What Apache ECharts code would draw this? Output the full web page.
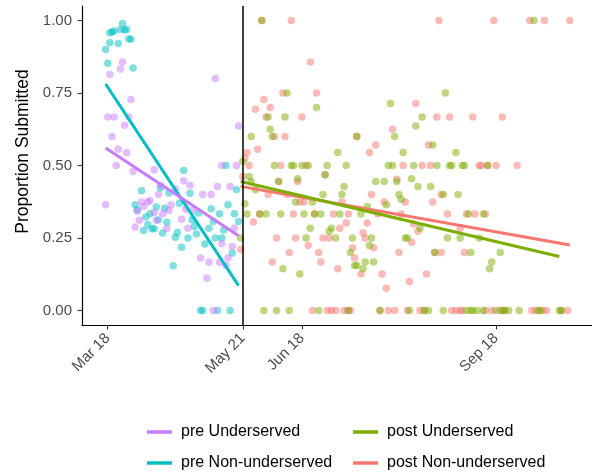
<!DOCTYPE html>
<html><head><meta charset="utf-8">
<script src="https://cdn.jsdelivr.net/npm/echarts@6/dist/echarts.min.js"></script>
<style>html,body{margin:0;padding:0;background:#fff}#c{width:592px;height:474px}</style>
</head><body><div id="c"></div>
<script>
// x = days since Mar 18
const tickDays = [0, 64, 92, 184];
const tickLabels = ['Mar 18', 'May 21', 'Jun 18', 'Sep 18'];
const yTicks = [0, 0.25, 0.5, 0.75, 1];
const cutoffDay = 64;

const preUnderserved = [[7,.857],[6,.833],[1,.814],[51,.8],[11,.728],[0,.667],[3,.667],[10,.667],[8,.639],[62,.636],[2,.6],[5,.556],[9,.545],[4,.5],[54,.5],[61,.5],[12,.479],[22,.485],[-1,.365],[36,.447],[39,.432],[25,.431],[32,.419],[52,.428],[58,.428],[24,.4],[45,.4],[49,.4],[16,.374],[19,.374],[20,.379],[30,.364],[17,.359],[14,.342],[22,.338],[29,.345],[26,.334],[37,.35],[40,.345],[35,.315],[15,.311],[23,.311],[13,.288],[28,.283],[38,.284],[60,.284],[54,.23],[59,.221],[44,.181],[48,.166],[53,.166],[57,.181],[56,.155],[47,.111],[50,0]];

const preNonUnderserved = [[7,.99],[2,.96],[3,.964],[6,.969],[8,.967],[9,.969],[1,.958],[1,.923],[5,.921],[10,.937],[11,.935],[-1,.9],[0,.853],[12,.836],[36,.483],[56,.5],[16,.413],[25,.422],[29,.405],[39,.404],[61,.416],[13,.365],[14,.347],[23,.357],[27,.353],[34,.37],[49,.351],[57,.365],[20,.334],[18,.322],[53,.334],[60,.334],[43,.336],[62,.307],[50,.307],[40,.313],[19,.296],[24,.313],[28,.304],[41,.29],[17,.276],[21,.282],[22,.282],[48,.284],[55,.278],[26,.267],[33,.269],[42,.264],[32,.253],[38,.25],[51,.25],[54,.25],[46,.229],[35,.218],[59,.198],[31,.154],[44,0],[45,0],[52,0],[58,0]];

const postUnderserved = [[73,1],[202,1],[85,.75],[160,.75],[99,.7],[134,.714],[76,.667],[84,.667],[149,.667],[77,.625],[146,.636],[68,.6],[78,.6],[118,.6],[136,.6],[154,.571],[109,.545],[140,.545],[165,.545],[64,.514],
[79,.5],[87,.5],[88,.5],[92,.5],[95,.5],[104,.5],[113,.5],[133,.5],[135,.5],[145,.5],[156,.5],[162,.5],[163,.5],[168,.5],[169,.5],[180,.5],
[67,.462],[68,.445],[90,.454],[81,.445],[103,.468],[112,.428],[111,.4],[102,.4],[70,.416],[89,.374],[97,.374],[65,.368],
[66,.333],[72,.333],[75,.333],[82,.333],[93,.333],[98,.333],[101,.333],[110,.333],[120,.333],[171,.333],[178,.333],
[96,.284],[106,.284],[105,.273],[148,.284],
[63,.25],[94,.25],[108,.25],[116,.25],[125,.25],[141,.25],[142,.25],[161,.25],[167,.25],[176,.25],
[115,.2],[117,.155],[83,.144],[91,.126],
[127,.445],[131,.445],[137,.445],[144,.454],[147,.428],[153,.428],
[138,.4],[159,.4],[166,.4],[139,.384],[132,.365],[123,.359],
[124,.224],[155,.2],[172,.2],[186,.2],[122,.167],[126,.167],[118,.155],[121,.144],[182,.167],[181,.144],
[74,0],[80,0],[86,0],[100,0],[114,0],[129,0],[143,0],[150,0],[152,0],[159,0],[170,0],[172,0],[173,0],[175,0],[178,0],[184,0],[187,0],[188,0],[190,0],[195,0],[204,0],[205,0],[214,0],[215,0]];

const postNonUnderserved = [[73,1],[87,1],[157,1],[183,1],[200,1],[207,1],[219,1],
[96,.857],[83,.75],[99,.75],[74,.728],[70,.694],[77,.7],[146,.714],
[75,.667],[92,.667],[156,.667],[162,.667],[173,.667],[187,.667],
[135,.625],[79,.6],[84,.6],[118,.6],[127,.571],[152,.571],[71,.556],[66,.545],[124,.545],[65,.525],
[67,.5],[82,.5],[94,.5],[140,.5],[149,.5],[153,.5],[176,.5],[177,.5],[180,.5],[184,.5],[194,.5],
[64,.462],[137,.453],[90,.445],[81,.445],[103,.468],
[76,.4],[85,.4],[125,.4],[158,.4],
[91,.374],[93,.374],[111,.374],[141,.374],[154,.374],[131,.374],
[72,.333],[88,.333],[98,.333],[107,.333],[114,.333],[128,.333],[139,.333],[161,.333],[170,.333],[174,.333],[179,.333],
[69,.305],[113,.302],[123,.302],[145,.298],[110,.284],[167,.284],[147,.273],[121,.267],
[80,.25],[89,.25],[102,.25],[105,.25],[122,.25],
[144,.235],[95,.224],[116,.216],[126,.216],[63,.21],
[100,.2],[86,.2],[138,.2],[155,.2],[158,.2],[169,.2],
[117,.181],[78,.167],[101,.167],[109,.144],[120,.126],[130,.126],[151,.126],[143,.1],[132,.077],
[97,0],[104,0],[106,0],[108,0],[112,0],[114,0],[115,0],[129,0],[133,0],[136,0],[142,0],[148,0],[150,0],[163,0],[165,0],[167,0],[168,0],[179,0],[182,0],[186,0],[188,0],[201,0],[203,0],[206,0],[208,0],[215,0],[218,0]];

// fitted trend lines (endpoints)
const preUnderservedFit = [[-1, 0.560], [62, 0.258]];
const preNonUnderservedFit = [[-1, 0.781], [62, 0.086]];
const postUnderservedFit = [[63, 0.445], [214, 0.186]];
const postNonUnderservedFit = [[63, 0.428], [219, 0.226]];

const groups = [
  {name: 'post Non-underserved', color: '#F8766D', pts: postNonUnderserved, fit: postNonUnderservedFit},
  {name: 'post Underserved', color: '#7CAE00', pts: postUnderserved, fit: postUnderservedFit},
  {name: 'pre Non-underserved', color: '#00BFC4', pts: preNonUnderserved, fit: preNonUnderservedFit},
  {name: 'pre Underserved', color: '#C77CFF', pts: preUnderserved, fit: preUnderservedFit}
];

const FONT = 'Liberation Sans, Arial, sans-serif';
const series = [];
groups.forEach(g => {
  series.push({
    type: 'scatter', name: g.name + ' pts', data: g.pts, symbolSize: 7.5,
    itemStyle: {color: g.color, opacity: 0.5}, silent: true, z: 2
  });
});
groups.forEach(g => {
  series.push({
    type: 'line', name: g.name, data: g.fit, color: g.color, showSymbol: false, symbol: 'none',
    lineStyle: {color: g.color, width: 3}, itemStyle: {color: g.color}, silent: true, z: 3
  });
});
series.push({
  type: 'line', name: 'cutoff', data: [], silent: true, z: 4,
  markLine: {symbol: 'none', silent: true, label: {show: false},
    lineStyle: {color: '#000', width: 1.5, type: 'solid'},
    data: [{xAxis: cutoffDay}]}
});

function leg(name, left, top) {
  return {
    left: left, top: top, orient: 'horizontal', selectedMode: false,
    icon: 'rect', itemWidth: 25, itemHeight: 3.5,
    textStyle: {fontSize: 16, color: '#000', fontFamily: FONT, lineHeight: 16, padding: [0, 0, 0, 4]},
    data: [{name: name}]
  };
}

const chart = echarts.init(document.getElementById('c'), null, {renderer: 'canvas'});
chart.setOption({
  animation: false,
  backgroundColor: '#fff',
  grid: {left: 82, right: 0, top: 6, bottom: 149, containLabel: false},
  xAxis: {
    type: 'value', min: -12.2, max: 229.5,
    axisLine: {show: true, onZero: false, lineStyle: {color: '#000', width: 1.2}},
    axisTick: {show: true, length: 4.5, customValues: tickDays, lineStyle: {color: '#333', width: 1.1}},
    axisLabel: {customValues: tickDays, rotate: 45, margin: 11, fontSize: 15, color: '#4D4D4D', fontFamily: FONT,
      formatter: v => { const i = tickDays.indexOf(v); return i >= 0 ? tickLabels[i] : ''; }},
    splitLine: {show: false}
  },
  yAxis: {
    type: 'value', min: -0.05, max: 1.05,
    name: 'Proportion Submitted', nameLocation: 'middle', nameGap: 43,
    nameTextStyle: {fontSize: 17.5, color: '#000', fontFamily: FONT, padding: [0, 0, 0, 28]},
    axisLine: {show: true, onZero: false, lineStyle: {color: '#000', width: 1.2}},
    axisTick: {show: true, length: 4.5, customValues: yTicks, lineStyle: {color: '#333', width: 1.1}},
    axisLabel: {customValues: yTicks, margin: 10, fontSize: 15, color: '#4D4D4D', fontFamily: FONT,
      formatter: v => v.toFixed(2)},
    splitLine: {show: false}
  },
  legend: [
    leg('pre Underserved', 142, 419),
    leg('pre Non-underserved', 142, 450),
    leg('post Underserved', 348, 419),
    leg('post Non-underserved', 348, 450)
  ],
  series: series
});
</script>
</body></html>
